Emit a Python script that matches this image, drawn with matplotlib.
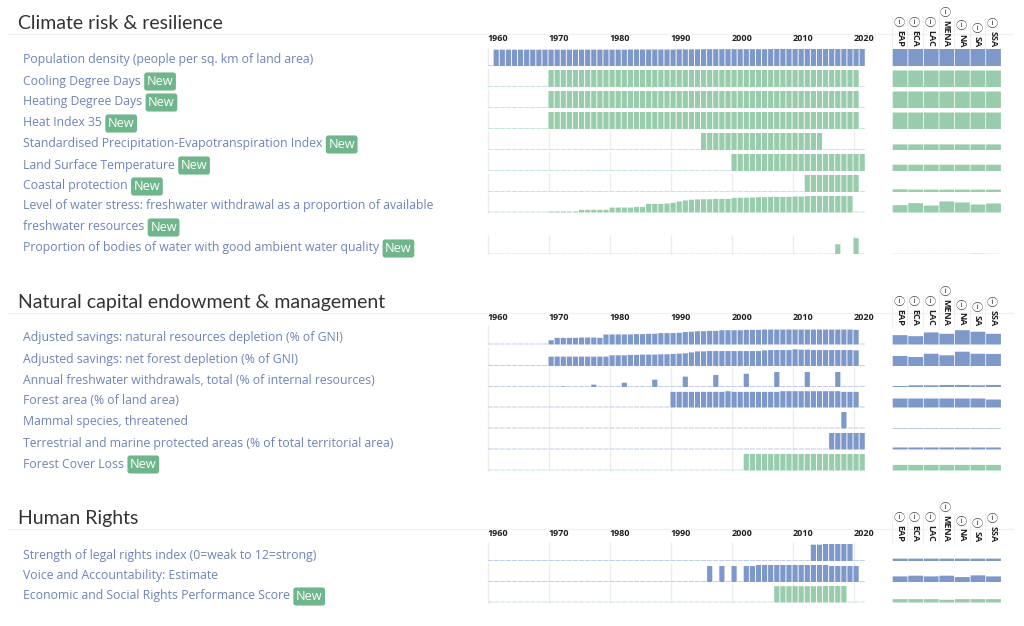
import matplotlib
matplotlib.use("Agg")
import matplotlib.pyplot as plt

# colours
BLUE = "#7f98ca"
GREEN = "#98ccac"
BLUE_STUB = "#c3cee8"
GREEN_STUB = "#cbe6d6"
LINK = "#7083b8"
BADGE = "#6fb68c"
GRID = "#ececec"

W, H = 1024, 626
plt.rcParams["font.family"] = ["Open Sans", "DejaVu Sans"]

regions = ["EAP", "ECA", "LAC", "MENA", "NA", "SA", "SSA"]
year_ticks = [1960, 1970, 1980, 1990, 2000, 2010, 2020]

# bar heights as share of a full row
pop_density = [0.96, 0.96, 0.96, 0.96, 0.96, 0.96, 0.96, 0.96, 0.96, 0.96,
               0.96, 0.96, 0.96, 0.96, 0.96, 0.96, 0.96, 0.96, 0.96, 0.96,
               0.96, 0.96, 0.97, 0.97, 0.97, 0.97, 0.97, 0.97, 0.97, 0.97,
               0.98, 0.98, 0.98, 0.98, 0.99, 0.99, 0.99, 0.99, 0.99, 0.99,
               0.99, 0.99, 0.99, 0.99, 0.99, 1.0, 1.0, 1.0, 1.0, 1.0,
               1.0, 1.0, 1.0, 1.0, 1.0, 1.0, 1.0, 1.0, 1.0, 1.0, 1.0]
cooling = [1.0, 1.0, 1.0, 1.0, 1.0, 1.0, 1.0, 1.0, 1.0, 1.0, 1.0, 1.0, 1.0,
           1.0, 1.0, 1.0, 1.0, 1.0, 1.0, 1.0, 1.0, 1.0, 1.0, 1.0, 1.0, 1.0,
           1.0, 1.0, 1.0, 1.0, 1.0, 1.0, 1.0, 1.0, 1.0, 1.0, 1.0, 1.0, 1.0,
           1.0, 1.0, 1.0, 1.0, 1.0, 1.0, 1.0, 1.0, 1.0, 1.0, 1.0, 1.0]
heating = list(cooling)
heat_index = list(cooling)
spei = [1.0, 1.0, 1.0, 1.0, 1.0, 1.0, 1.0, 1.0, 1.0, 1.0,
        1.0, 1.0, 1.0, 1.0, 1.0, 1.0, 1.0, 1.0, 1.0, 1.0]
lst = [1.0, 1.0, 1.0, 1.0, 1.0, 1.0, 1.0, 1.0, 1.0, 1.0, 1.0,
       1.0, 1.0, 1.0, 1.0, 1.0, 1.0, 1.0, 1.0, 1.0, 1.0, 1.0]
coastal = [1.0, 1.0, 1.0, 1.0, 1.0, 1.0, 1.0, 1.0, 1.0]
water_stress = [0.06, 0.06, 0.06, 0.06, 0.06, 0.16, 0.16, 0.16, 0.16, 0.16,
                0.29, 0.29, 0.29, 0.29, 0.33, 0.33, 0.51, 0.51, 0.51, 0.53,
                0.57, 0.65, 0.71, 0.75, 0.77, 0.78, 0.78, 0.80, 0.80, 0.80,
                0.86, 0.87, 0.87, 0.88, 0.90, 0.90, 0.92, 0.92, 0.92, 0.92,
                0.94, 0.94, 0.96, 0.98, 1.0, 1.0, 1.0, 1.0, 0.98, 0.98]
water_quality = [0.6, 0.0, 0.0, 0.96]

natural_dep = [0.25, 0.39, 0.39, 0.39, 0.39, 0.41, 0.41, 0.41, 0.39, 0.59,
               0.59, 0.59, 0.59, 0.59, 0.61, 0.61, 0.63, 0.63, 0.67, 0.67,
               0.67, 0.69, 0.73, 0.75, 0.78, 0.78, 0.80, 0.80, 0.84, 0.84,
               0.84, 0.84, 0.86, 0.86, 0.86, 0.88, 0.88, 0.88, 0.88, 0.88,
               0.88, 0.88, 0.88, 0.88, 0.88, 0.88, 0.88, 0.88, 0.88, 0.88, 0.86]
forest_dep = [0.55, 0.55, 0.55, 0.55, 0.55, 0.55, 0.55, 0.55, 0.55, 0.55,
              0.63, 0.63, 0.63, 0.65, 0.65, 0.67, 0.67, 0.67, 0.69, 0.69,
              0.71, 0.73, 0.75, 0.80, 0.86, 0.86, 0.88, 0.88, 0.88, 0.88,
              0.88, 0.88, 0.88, 0.88, 0.88, 0.92, 0.94, 0.94, 0.94, 0.94,
              0.98, 0.96, 0.96, 0.94, 0.94, 0.94, 0.94, 0.94, 0.94, 0.94, 0.92]
freshwater = [0.04, 0.14, 0.25, 0.43, 0.61, 0.71, 0.78, 0.88, 0.88, 0.88]
forest_area = [0.92, 0.92, 0.92, 0.92, 0.92, 0.92, 0.92, 0.92, 0.92, 0.96, 0.92,
               0.92, 0.92, 0.92, 0.92, 0.92, 0.92, 0.92, 0.96, 0.96, 0.96, 0.96,
               0.96, 0.96, 0.96, 0.96, 0.96, 0.96, 0.92, 0.92, 0.92]
mammal = [1.0]
protected = [1.0, 1.0, 1.0, 1.0, 1.0, 1.0]
forest_loss = [1.0, 1.0, 1.0, 1.0, 1.0, 1.0, 1.0, 1.0, 1.0, 1.0,
               1.0, 1.0, 1.0, 1.0, 1.0, 1.0, 1.0, 1.0, 1.0, 1.0]
legal_rights = [0.96, 0.96, 1.0, 1.0, 1.0, 1.0, 1.0]
voice = [0.94, 0.94, 0.94, 0.94, 0.94, 1.0, 1.0, 1.0, 1.0, 1.0, 1.0, 1.0,
         1.0, 1.0, 1.0, 1.0, 1.0, 0.94, 0.94, 0.94, 0.94, 0.94]
voice_years = [1996, 1998, 2000] + list(range(2002, 2021))
rights_score = [0.96, 0.96, 0.96, 0.96, 0.96, 0.96, 0.96, 0.96, 1.0, 1.0, 1.0, 1.0]

# regional panel heights, same scale
r_full = [1.0, 1.0, 1.0, 1.0, 1.0, 1.0, 1.0]
r_green_full = [0.97, 0.97, 0.97, 0.97, 0.97, 0.97, 0.97]
r_spei = [0.33, 0.33, 0.33, 0.33, 0.33, 0.33, 0.33]
r_lst = [0.37, 0.37, 0.37, 0.37, 0.37, 0.37, 0.37]
r_coastal = [0.16, 0.14, 0.14, 0.14, 0.14, 0.14, 0.14]
r_water = [0.43, 0.55, 0.41, 0.65, 0.59, 0.47, 0.53]
r_quality = [0.04, 0.04, 0.04, 0.04, 0.04, 0.05, 0.04]
r_natural = [0.55, 0.49, 0.71, 0.63, 0.84, 0.75, 0.63]
r_forest_dep = [0.59, 0.53, 0.72, 0.63, 0.84, 0.72, 0.71]
r_freshwater = [0.06, 0.10, 0.10, 0.12, 0.12, 0.10, 0.12]
r_forest = [0.53, 0.53, 0.53, 0.53, 0.53, 0.53, 0.47]
r_mammal = [0.03, 0.03, 0.03, 0.03, 0.03, 0.03, 0.03]
r_protected = [0.12, 0.12, 0.12, 0.12, 0.12, 0.12, 0.12]
r_loss = [0.33, 0.33, 0.33, 0.33, 0.33, 0.33, 0.33]
r_legal = [0.14, 0.14, 0.14, 0.14, 0.14, 0.14, 0.14]
r_voice = [0.33, 0.37, 0.33, 0.37, 0.29, 0.39, 0.33]
r_score = [0.20, 0.20, 0.20, 0.16, 0.20, 0.20, 0.20]

# label lines, badge, colour, years, values, regional, baseline px, decade lines
sections = [
    ("Climate risk & resilience", 34, [
        (["Population density (people per sq. km of land area)"], False, "b",
         range(1961, 2022), pop_density, r_full, 66, False),
        (["Cooling Degree Days"], True, "g", range(1970, 2021), cooling, r_green_full, 87, False),
        (["Heating Degree Days"], True, "g", range(1970, 2021), heating, r_green_full, 108, False),
        (["Heat Index 35"], True, "g", range(1970, 2021), heat_index, r_green_full, 129, False),
        (["Standardised Precipitation-Evapotranspiration Index"], True, "g",
         range(1995, 2015), spei, r_spei, 150, True),
        (["Land Surface Temperature"], True, "g", range(2000, 2022), lst, r_lst, 171, True),
        (["Coastal protection"], True, "g", range(2012, 2021), coastal, r_coastal, 192, True),
        (["Level of water stress: freshwater withdrawal as a proportion of available",
          "freshwater resources"], True, "g", range(1970, 2020), water_stress, r_water, 212.5, False),
        (["Proportion of bodies of water with good ambient water quality"], True, "g",
         range(2017, 2021), water_quality, r_quality, 254.5, True),
    ]),
    ("Natural capital endowment & management", 313, [
        (["Adjusted savings: natural resources depletion (% of GNI)"], False, "b",
         range(1970, 2021), natural_dep, r_natural, 344.5, False),
        (["Adjusted savings: net forest depletion (% of GNI)"], False, "b",
         range(1970, 2021), forest_dep, r_forest_dep, 366, False),
        (["Annual freshwater withdrawals, total (% of internal resources)"], False, "b",
         range(1972, 2018, 5), freshwater, r_freshwater, 387, True),
        (["Forest area (% of land area)"], False, "b", range(1990, 2021), forest_area, r_forest, 407.5, True),
        (["Mammal species, threatened"], False, "b", [2018], mammal, r_mammal, 428.5, True),
        (["Terrestrial and marine protected areas (% of total territorial area)"], False, "b",
         range(2016, 2022), protected, r_protected, 449.5, True),
        (["Forest Cover Loss"], True, "g", range(2002, 2022), forest_loss, r_loss, 470.5, True),
    ]),
    ("Human Rights", 529, [
        (["Strength of legal rights index (0=weak to 12=strong)"], False, "b",
         range(2013, 2020), legal_rights, r_legal, 561, True),
        (["Voice and Accountability: Estimate"], False, "b", voice_years, voice, r_voice, 582, True),
        (["Economic and Social Rights Performance Score"], True, "g",
         range(2007, 2019), rights_score, r_score, 602.5, True),
    ]),
]


def px_axes(left, bottom_px, width, height):
    # axes placed with picture pixels (y from the top)
    ax = fig.add_axes([left / W, 1 - bottom_px / H, width / W, height / H])
    ax.patch.set_alpha(0)
    ax.axis("off")
    return ax


fig = plt.figure(figsize=(W / 100, H / 100), dpi=100)
ROW_H = 17

overlay = fig.add_axes([0, 0, 1, 1], zorder=5)
overlay.set_xlim(0, W)
overlay.set_ylim(H, 0)
overlay.patch.set_alpha(0)
overlay.axis("off")
renderer = fig.canvas.get_renderer()

for title, line_y, rows in sections:
    overlay.plot([8, 1012], [line_y, line_y], color="#f0f0f0", lw=1, zorder=0)
    overlay.text(18, line_y - 5, title, fontsize=14.05, family="Lato", color="#333333", va="baseline")

    for yr in year_ticks:
        overlay.text(487.5 + (yr - 1960) * 6.1 + 0.3, line_y + 4.5, str(yr), fontsize=6.5,
                     fontweight="bold", color="#222222", va="center", ha="left")

    for i, name in enumerate(regions):
        cx = 891.5 + 15.6 * (i + 0.5)
        lab = overlay.text(cx, line_y + 13, name, rotation=270, fontsize=6.5, fontweight="bold",
                           color="#222222", ha="center", va="bottom")
        top = overlay.transData.inverted().transform(lab.get_window_extent(renderer))[1][1]
        overlay.text(cx - 0.5, top - 7, "\u24d8", fontsize=8,
                     family=["Noto Sans CJK SC", "DejaVu Sans"],
                     color="#444444", ha="center", va="center")
        overlay.plot([cx - 7.5, cx - 7.5], [top - 13, line_y + 13], color="#efefef", lw=0.8, zorder=0)

    for lines, is_new, tone, years, values, reg, base, decades in rows:
        colour, stub = (BLUE, BLUE_STUB) if tone == "b" else (GREEN, GREEN_STUB)

        ax = px_axes(487.5, base, 6.1 * 62, ROW_H)
        ax.set_xlim(1960, 2022)
        ax.set_ylim(0, 1)
        ax.vlines(year_ticks if decades else [1960], 0, 1.12, color=GRID, lw=1, zorder=0, clip_on=False)
        years = list(years)
        empty = [y for y in range(1960, 2022) if y not in years]
        ax.bar(empty, [0.06] * len(empty), width=0.85, align="edge", color=stub, zorder=1, snap=False)
        ax.bar(years, values, width=0.85, align="edge", color=colour, zorder=2, snap=False)

        rx = px_axes(892.3, base, 109, ROW_H)
        rx.set_xlim(-0.5, 6.5)
        rx.set_ylim(0, 1)
        rx.bar(range(7), reg, width=0.95, color=colour, snap=False)

        # wrapped labels run downward from the first line
        text_y = int(base) - 6
        for n, line in enumerate(lines):
            t = overlay.text(23, text_y + 21 * n, line, fontsize=8.85, color=LINK, va="center")
        if is_new:
            box = overlay.transData.inverted().transform(t.get_window_extent(renderer))
            overlay.text(box[1][0] + 6, text_y + 21 * (len(lines) - 1) + 0.5, "New", fontsize=9.2,
                         color="white", va="center", ha="left",
                         bbox=dict(boxstyle="round,pad=0.2", fc=BADGE, ec="none"))

fig.savefig("out.png", dpi=100)
